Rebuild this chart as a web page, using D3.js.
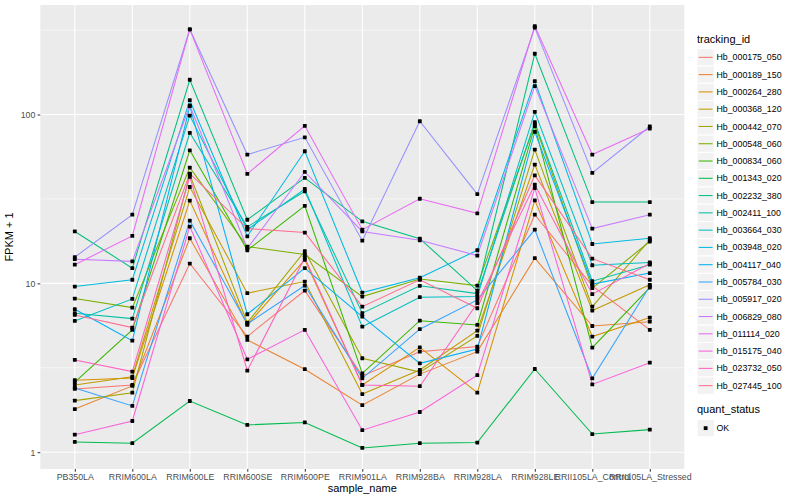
<!DOCTYPE html>
<html>
<head>
<meta charset="utf-8">
<script src="https://cdn.jsdelivr.net/npm/d3@7"></script>
<style>
  body { margin: 0; background: #fff; }
  text { font-family: "Liberation Sans", Arial, sans-serif; }
</style>
</head>
<body>
<div id="chart"></div>
<script>
// samples on the x axis
const samples = ["PB350LA", "RRIM600LA", "RRIM600LE", "RRIM600SE", "RRIM600PE", "RRIM901LA",
                 "RRIM928BA", "RRIM928LA", "RRIM928LE", "RRII105LA_Control", "RRII105LA_Stressed"];

const trackingIds = ["Hb_000175_050", "Hb_000189_150", "Hb_000264_280", "Hb_000368_120", "Hb_000442_070",
                     "Hb_000548_060", "Hb_000834_060", "Hb_001343_020", "Hb_002232_380", "Hb_002411_100",
                     "Hb_003664_030", "Hb_003948_020", "Hb_004117_040", "Hb_005784_030", "Hb_005917_020",
                     "Hb_006829_080", "Hb_011114_020", "Hb_015175_040", "Hb_023732_050", "Hb_027445_100"];

// ggplot default hue palette, 20 levels
const seriesColors = ["#F8766D", "#EA8331", "#D89000", "#C09B00", "#A3A500", "#7CAE00", "#39B600", "#00BB4E",
                      "#00BF7D", "#00C1A3", "#00BFC4", "#00BAE0", "#00B0F6", "#35A2FF", "#9590FF", "#C77CFF",
                      "#E76BF3", "#FA62DB", "#FF62BC", "#FF6C91"];

// FPKM + 1, one row per tracking_id, one value per sample
const fpkmPlus1 = [
  [2.37, 2.50, 13.1, 4.84, 9.06, 2.83, 3.94, 4.22, 25.5, 9.67, 5.30],
  [1.80, 2.47, 18.5, 4.62, 3.10, 1.90, 2.90, 3.94, 14.1, 5.59, 5.93],
  [2.67, 2.75, 30.9, 5.67, 13.8, 2.50, 4.18, 2.25, 31.0, 4.84, 6.27],
  [2.50, 2.80, 37.2, 8.75, 10.25, 2.21, 3.07, 5.25, 50.5, 6.90, 9.80],
  [2.02, 2.25, 44.0, 5.85, 15.5, 3.60, 2.98, 4.88, 62.0, 7.28, 18.1],
  [8.13, 7.18, 48.5, 16.5, 14.8, 8.35, 10.6, 9.70, 87.5, 9.37, 17.7],
  [2.60, 5.30, 61.4, 15.7, 28.8, 2.93, 6.01, 5.67, 85.3, 4.16, 9.44],
  [1.15, 1.13, 2.01, 1.45, 1.50, 1.06, 1.13, 1.14, 3.11, 1.28, 1.36],
  [20.3, 12.3, 160.7, 23.8, 42.1, 23.3, 18.4, 9.06, 229, 30.3, 30.3],
  [6.66, 6.18, 77.9, 21.6, 35.1, 6.66, 9.67, 8.70, 90.0, 10.3, 12.9],
  [5.99, 8.09, 98.6, 20.8, 36.2, 5.54, 8.28, 8.35, 103.8, 12.8, 13.3],
  [9.57, 10.5, 121.6, 19.0, 60.6, 8.82, 10.8, 15.7, 157.7, 17.1, 18.5],
  [7.03, 4.58, 112, 6.56, 12.3, 6.35, 3.36, 4.08, 78.9, 9.90, 11.5],
  [2.40, 1.88, 23.5, 5.75, 9.70, 2.74, 5.35, 7.98, 20.8, 2.74, 9.60],
  [14.3, 25.5, 319.6, 57.9, 73.3, 17.9, 91.2, 33.8, 327, 45.1, 84.9],
  [13.9, 13.5, 113.1, 16.1, 45.7, 20.3, 18.0, 14.6, 147.3, 21.1, 25.5],
  [12.9, 19.1, 319.6, 44.5, 85.7, 20.8, 31.7, 26.0, 334, 57.9, 82.6],
  [1.27, 1.53, 21.7, 3.55, 5.30, 1.35, 1.73, 2.86, 36.7, 2.52, 3.39],
  [3.52, 3.00, 42.7, 3.04, 14.2, 2.50, 2.46, 7.63, 38.4, 8.63, 13.1],
  [6.50, 5.47, 44.7, 21.1, 20.0, 7.28, 10.5, 7.12, 43.6, 14.0, 10.5]
];

const yTicks = [1, 10, 100];
const yMinorTicks = [Math.pow(10, 0.5), Math.pow(10, 1.5), Math.pow(10, 2.5)];
const quantStatus = ["OK"];

// canvas and panel
const W = 800, H = 500;
const panel = {left: 40.3, right: 684.3, top: 5, bottom: 469};
const ptSize = 3.8;

const svg = d3.select("#chart")
  .append("svg")
  .attr("width", W)
  .attr("height", H);

svg.append("rect").attr("width", W).attr("height", H).attr("fill", "#fff");

// x scale: discrete with ggplot-like 0.6 expansion
const xScale = d3.scalePoint()
  .domain(samples)
  .range([panel.left, panel.right])
  .padding(0.6);

// y scale: log10 with 5% expansion of the data range
const allVals = fpkmPlus1.flat();
const lo = Math.log10(d3.min(allVals)), hi = Math.log10(d3.max(allVals));
const pad = (hi - lo) * 0.05;
const yScale = d3.scaleLog()
  .domain([Math.pow(10, lo - pad), Math.pow(10, hi + pad)])
  .range([panel.bottom, panel.top]);

// panel background
svg.append("rect")
  .attr("x", panel.left)
  .attr("y", panel.top)
  .attr("width", panel.right - panel.left)
  .attr("height", panel.bottom - panel.top)
  .attr("fill", "#EBEBEB");

// gridlines
const grid = svg.append("g").attr("class", "grid");
grid.selectAll("line.minor")
  .data(yMinorTicks.filter(d => d >= yScale.domain()[0] && d <= yScale.domain()[1]))
  .join("line")
  .attr("class", "minor")
  .attr("x1", panel.left).attr("x2", panel.right)
  .attr("y1", d => yScale(d)).attr("y2", d => yScale(d))
  .attr("stroke", "#fff").attr("stroke-width", 0.55);

grid.selectAll("line.majorY")
  .data(yTicks)
  .join("line")
  .attr("class", "majorY")
  .attr("x1", panel.left).attr("x2", panel.right)
  .attr("y1", d => yScale(d)).attr("y2", d => yScale(d))
  .attr("stroke", "#fff").attr("stroke-width", 1.1);

grid.selectAll("line.majorX")
  .data(samples)
  .join("line")
  .attr("class", "majorX")
  .attr("x1", d => xScale(d)).attr("x2", d => xScale(d))
  .attr("y1", panel.top).attr("y2", panel.bottom)
  .attr("stroke", "#fff").attr("stroke-width", 1.1);

// axes
const xAxis = svg.append("g")
  .attr("transform", `translate(0,${panel.bottom})`)
  .call(d3.axisBottom(xScale).tickSize(2.75).tickPadding(2.5));
const yAxis = svg.append("g")
  .attr("transform", `translate(${panel.left},0)`)
  .call(d3.axisLeft(yScale).tickValues(yTicks).tickFormat(d3.format("d")).tickSize(2.75).tickPadding(2.2));

[xAxis, yAxis].forEach(a => {
  a.select(".domain").remove();
  a.selectAll(".tick line").attr("stroke", "#333333").attr("stroke-width", 1);
  a.selectAll(".tick text")
    .attr("fill", "#4D4D4D")
    .style("font-size", "8.8px")
    .style("font-family", "'Liberation Sans', Arial, sans-serif");
});

// lines
const line = d3.line()
  .x((d, i) => xScale(samples[i]))
  .y(d => yScale(d));

svg.append("g")
  .selectAll("path")
  .data(fpkmPlus1)
  .join("path")
  .attr("d", d => line(d))
  .attr("fill", "none")
  .attr("stroke", (d, i) => seriesColors[i])
  .attr("stroke-width", 1.05);

// points (black squares)
const pts = [];
fpkmPlus1.forEach((row, s) => row.forEach((v, i) => pts.push({s: samples[i], v: v})));
svg.append("g")
  .selectAll("rect")
  .data(pts)
  .join("rect")
  .attr("x", d => xScale(d.s) - ptSize / 2)
  .attr("y", d => yScale(d.v) - ptSize / 2)
  .attr("width", ptSize)
  .attr("height", ptSize)
  .attr("rx", 0.6)
  .attr("fill", "#000");

// axis titles
svg.append("text")
  .attr("x", (panel.left + panel.right) / 2)
  .attr("y", 492)
  .attr("text-anchor", "middle")
  .style("font-size", "11px")
  .text("sample_name");

svg.append("text")
  .attr("transform", `translate(13,${(panel.top + panel.bottom) / 2}) rotate(-90)`)
  .attr("text-anchor", "middle")
  .style("font-size", "11px")
  .text("FPKM + 1");

// legend: tracking_id
const lg = svg.append("g").attr("transform", "translate(697,0)");
lg.append("text")
  .attr("x", 0).attr("y", 43)
  .style("font-size", "11px")
  .text("tracking_id");

const keyH = 17.28, key0 = 48.7;
const keys = lg.selectAll("g.key")
  .data(trackingIds)
  .join("g")
  .attr("class", "key")
  .attr("transform", (d, i) => `translate(0,${key0 + i * keyH})`);

keys.append("rect")
  .attr("width", keyH).attr("height", keyH)
  .attr("fill", "#F2F2F2").attr("stroke", "#fff").attr("stroke-width", 1);
keys.append("line")
  .attr("x1", 1.7).attr("x2", keyH - 1.7)
  .attr("y1", keyH / 2).attr("y2", keyH / 2)
  .attr("stroke", (d, i) => seriesColors[i])
  .attr("stroke-width", 1.05);
keys.append("text")
  .attr("x", keyH + 2.2).attr("y", keyH / 2)
  .attr("dy", "0.35em")
  .style("font-size", "8.8px")
  .text(d => d);

// legend: quant_status
lg.append("text")
  .attr("x", 0).attr("y", 413)
  .style("font-size", "11px")
  .text("quant_status");

const qk = lg.selectAll("g.qkey")
  .data(quantStatus)
  .join("g")
  .attr("class", "qkey")
  .attr("transform", (d, i) => `translate(0,${419.5 + i * keyH})`);
qk.append("rect")
  .attr("width", keyH).attr("height", keyH)
  .attr("fill", "#F2F2F2").attr("stroke", "#fff");
qk.append("rect")
  .attr("x", keyH / 2 - ptSize / 2).attr("y", keyH / 2 - ptSize / 2)
  .attr("width", ptSize).attr("height", ptSize)
  .attr("fill", "#000");
qk.append("text")
  .attr("x", keyH + 2.2).attr("y", keyH / 2)
  .attr("dy", "0.35em")
  .style("font-size", "8.8px")
  .text(d => d);
</script>
</body>
</html>
